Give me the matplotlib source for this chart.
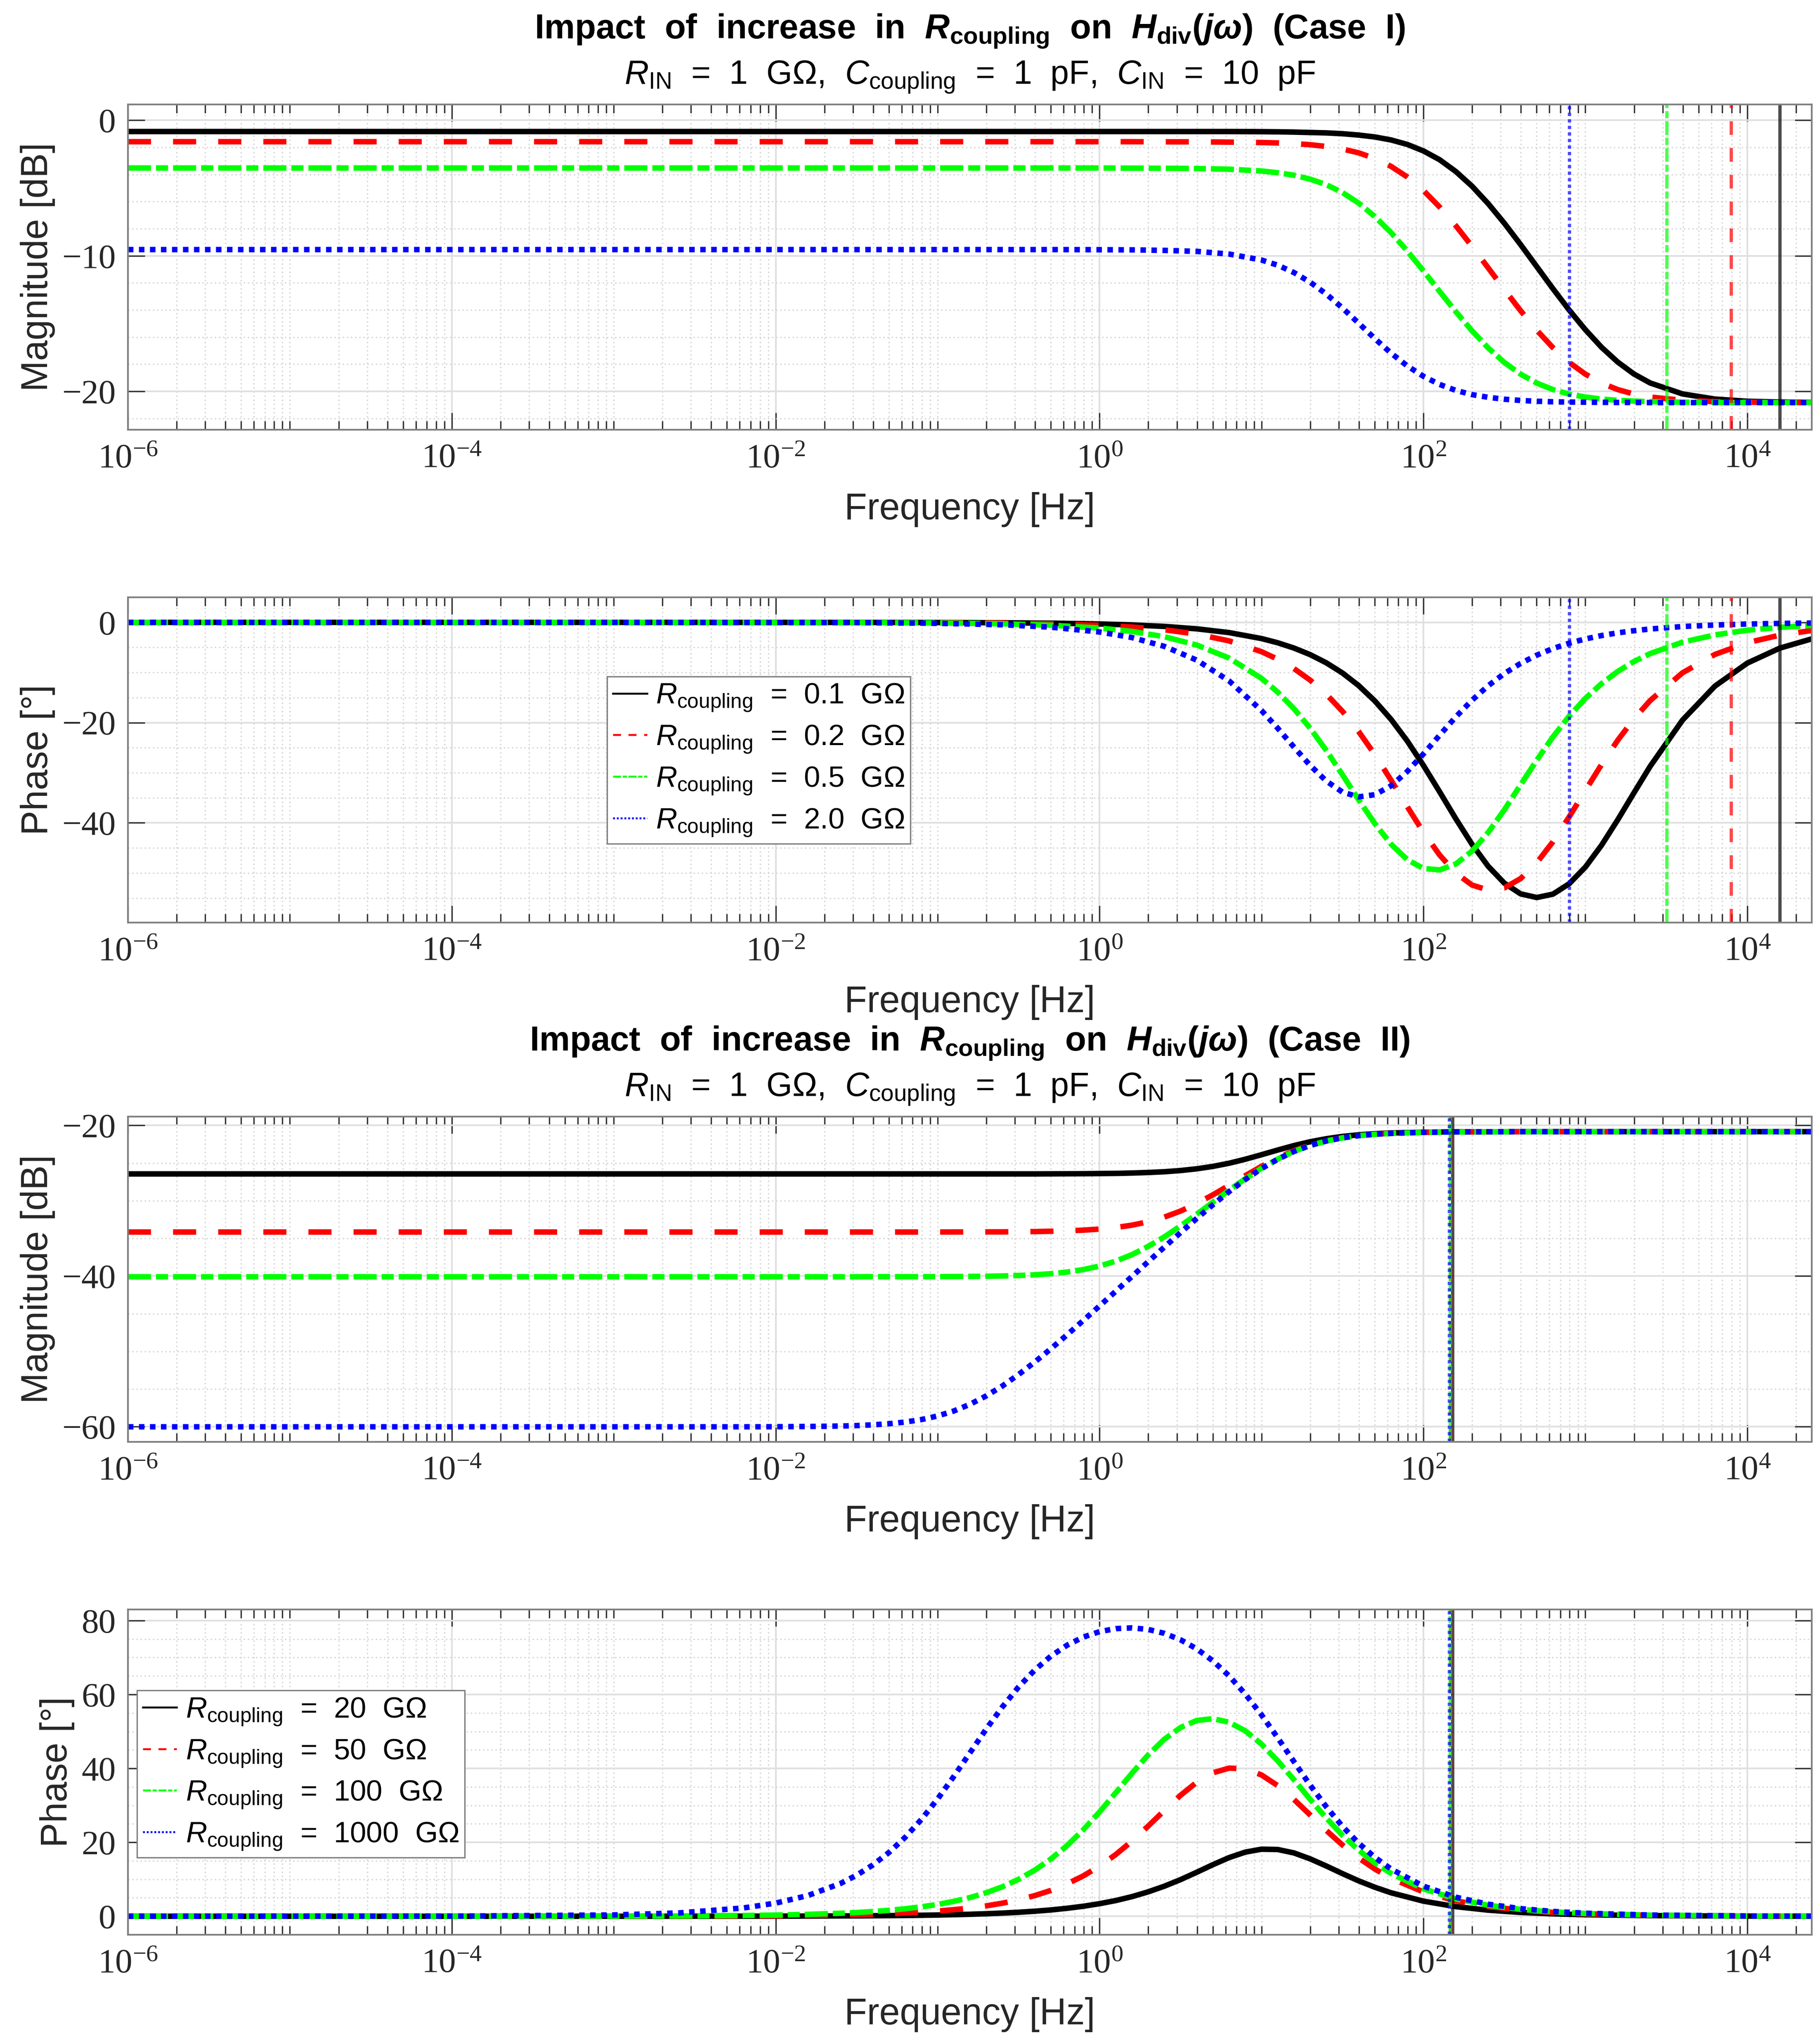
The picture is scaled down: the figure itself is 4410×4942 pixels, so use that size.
import numpy as np
import matplotlib
matplotlib.use('Agg')
import matplotlib.pyplot as plt
from matplotlib.lines import Line2D
from matplotlib.ticker import FixedLocator, LogLocator, MultipleLocator, NullFormatter

plt.rcParams['font.family'] = ['Liberation Sans', 'DejaVu Sans']
plt.rcParams['mathtext.fontset'] = 'custom'
plt.rcParams['mathtext.rm'] = 'Liberation Sans'
plt.rcParams['mathtext.it'] = 'Liberation Sans:italic'
plt.rcParams['mathtext.bf'] = 'Liberation Sans:bold'
plt.rcParams['mathtext.bfit'] = 'Liberation Sans:italic:bold'
plt.rcParams['mathtext.sf'] = 'Liberation Sans'
plt.rcParams['axes.unicode_minus'] = True

# ---------------- data ----------------
freq_case1 = [1e-6, 1e-3, 0.03162, 0.1, 0.2512, 0.5012, 1, 1.585, 2.512, 3.981, 6.31, 10,
              12.59, 15.85, 19.95, 25.12, 31.62, 39.81, 50.12, 63.1, 79.43, 100,
              125.9, 158.5, 199.5, 251.2, 316.2, 398.1, 501.2, 631, 794.3, 1000,
              1259, 1585, 1995, 2512, 3981, 6310, 10000, 15850, 25120]

mag_case1_01 = [-0.83, -0.83, -0.83, -0.83, -0.83, -0.83, -0.83, -0.83, -0.83, -0.83, -0.83, -0.84,
                -0.85, -0.87, -0.90, -0.93, -0.99, -1.09, -1.23, -1.45, -1.78, -2.26,
                -2.91, -3.78, -4.86, -6.15, -7.60, -9.17, -10.80, -12.43, -14.00, -15.45,
                -16.75, -17.84, -18.72, -19.38, -20.19, -20.57, -20.73, -20.79, -20.81]
mag_case1_02 = [-1.58, -1.58, -1.58, -1.58, -1.58, -1.58, -1.58, -1.58, -1.59, -1.59, -1.61, -1.64,
                -1.67, -1.72, -1.80, -1.93, -2.12, -2.40, -2.82, -3.40, -4.18, -5.18,
                -6.40, -7.78, -9.30, -10.89, -12.49, -14.05, -15.49, -16.78, -17.86, -18.73,
                -19.39, -19.87, -20.20, -20.42, -20.66, -20.76, -20.80, -20.82, -20.83]
mag_case1_05 = [-3.52, -3.52, -3.52, -3.52, -3.52, -3.52, -3.52, -3.53, -3.54, -3.56, -3.61, -3.74,
                -3.87, -4.05, -4.34, -4.75, -5.33, -6.11, -7.10, -8.29, -9.64, -11.11,
                -12.63, -14.12, -15.53, -16.80, -17.87, -18.73, -19.39, -19.87, -20.20, -20.42,
                -20.57, -20.66, -20.72, -20.76, -20.80, -20.82, -20.83, -20.83, -20.83]
mag_case1_20 = [-9.54, -9.54, -9.54, -9.54, -9.54, -9.54, -9.55, -9.56, -9.60, -9.67, -9.87, -10.31,
                -10.69, -11.23, -11.94, -12.82, -13.85, -14.97, -16.11, -17.18, -18.12, -18.89,
                -19.49, -19.93, -20.24, -20.44, -20.58, -20.67, -20.73, -20.77, -20.79, -20.80,
                -20.81, -20.82, -20.82, -20.83, -20.83, -20.83, -20.83, -20.83, -20.83]

phase_case1_01 = [0, 0, -0.01, -0.03, -0.08, -0.16, -0.32, -0.51, -0.81, -1.29, -2.04, -3.23,
                  -4.07, -5.12, -6.43, -8.07, -10.10, -12.61, -15.68, -19.35, -23.66, -28.54,
                  -33.81, -39.19, -44.27, -48.67, -52.04, -54.17, -54.90, -54.22, -52.15, -48.83,
                  -44.46, -39.39, -34.02, -28.73, -19.50, -12.72, -8.13, -5.15, -3.27]
phase_case1_02 = [0, 0, -0.02, -0.06, -0.15, -0.30, -0.59, -0.93, -1.48, -2.34, -3.70, -5.85,
                  -7.35, -9.21, -11.51, -14.33, -17.75, -21.78, -26.39, -31.49, -36.76, -41.88,
                  -46.42, -50.02, -52.41, -53.42, -52.98, -51.12, -47.96, -43.76, -38.81, -33.54,
                  -28.36, -23.52, -19.26, -15.60, -10.06, -6.40, -4.05, -2.56, -1.61]
phase_case1_05 = [0, 0, -0.04, -0.11, -0.29, -0.57, -1.14, -1.81, -2.86, -4.52, -7.13, -11.17,
                  -13.91, -17.21, -21.10, -25.54, -30.41, -35.40, -40.15, -44.26, -47.34, -49.10,
                  -49.39, -48.21, -45.65, -41.91, -37.38, -32.42, -27.48, -22.84, -18.71, -15.17,
                  -12.22, -9.79, -7.81, -6.23, -3.95, -2.50, -1.57, -0.99, -0.63]
phase_case1_20 = [0, 0, -0.06, -0.19, -0.48, -0.96, -1.92, -3.03, -4.79, -7.53, -11.68, -17.58,
                  -21.12, -24.87, -28.52, -31.65, -33.87, -34.82, -34.38, -32.61, -29.76, -26.25,
                  -22.52, -18.85, -15.54, -12.64, -10.20, -8.19, -6.54, -5.22, -4.16, -3.31,
                  -2.63, -2.09, -1.66, -1.32, -0.83, -0.53, -0.33, -0.21, -0.13]

freq_case2 = [1e-6, 1e-4, 1e-3, 0.00251, 0.00631, 0.01, 0.01585, 0.02512,
              0.03162, 0.03981, 0.05012, 0.0631, 0.07943, 0.1, 0.1259, 0.1585, 0.1995, 0.2512,
              0.3162, 0.3981, 0.5012, 0.631, 0.7943, 1, 1.259, 1.585, 1.995, 2.512,
              3.162, 3.981, 5.012, 6.31, 7.943, 10, 12.59, 15.85, 19.95, 25.12,
              31.62, 39.81, 50.12, 63.1,
              100, 158.5, 251.2, 398.1, 631, 1000, 2512, 10000, 25120]

mag_case2_20 = [-26.44, -26.44, -26.44, -26.44, -26.44, -26.44, -26.44, -26.44,
                -26.44, -26.44, -26.44, -26.44, -26.44, -26.44, -26.44, -26.44, -26.44, -26.44,
                -26.44, -26.44, -26.43, -26.42, -26.41, -26.39, -26.37, -26.32, -26.25, -26.15,
                -25.99, -25.76, -25.44, -25.02, -24.49, -23.89, -23.27, -22.68, -22.17, -21.77,
                -21.46, -21.25, -21.10, -21.00,
                -20.90, -20.85, -20.84, -20.83, -20.83, -20.83, -20.83, -20.83, -20.83]
mag_case2_50 = [-34.15, -34.15, -34.15, -34.15, -34.15, -34.15, -34.15, -34.15,
                -34.15, -34.15, -34.15, -34.15, -34.15, -34.15, -34.14, -34.14, -34.13, -34.13,
                -34.11, -34.09, -34.05, -33.99, -33.90, -33.76, -33.55, -33.24, -32.79, -32.17,
                -31.37, -30.37, -29.21, -27.95, -26.67, -25.43, -24.31, -23.37, -22.61, -22.05,
                -21.64, -21.36, -21.17, -21.05,
                -20.92, -20.86, -20.84, -20.83, -20.83, -20.83, -20.83, -20.83, -20.83]
mag_case2_100 = [-40.09, -40.09, -40.09, -40.09, -40.09, -40.09, -40.09, -40.09,
                 -40.09, -40.08, -40.08, -40.08, -40.08, -40.07, -40.06, -40.04, -40.02, -39.98,
                 -39.92, -39.83, -39.68, -39.46, -39.13, -38.66, -38.01, -37.15, -36.06, -34.79,
                 -33.34, -31.79, -30.19, -28.60, -27.08, -25.69, -24.47, -23.46, -22.67, -22.08,
                 -21.66, -21.37, -21.18, -21.06,
                 -20.92, -20.87, -20.84, -20.83, -20.83, -20.83, -20.83, -20.83, -20.83]
mag_case2_1000 = [-60.00, -60.00, -60.00, -60.00, -60.00, -59.99, -59.96, -59.90,
                  -59.84, -59.74, -59.59, -59.37, -59.04, -58.56, -57.90, -57.01, -55.90, -54.58,
                  -53.06, -51.40, -49.63, -47.78, -45.88, -43.96, -42.01, -40.05, -38.09, -36.15,
                  -34.23, -32.35, -30.53, -28.79, -27.18, -25.73, -24.49, -23.46, -22.66, -22.07,
                  -21.65, -21.36, -21.17, -21.05,
                  -20.92, -20.86, -20.84, -20.83, -20.83, -20.83, -20.83, -20.83, -20.83]

phase_case2_20 = [0, 0, 0, 0.01, 0.02, 0.03, 0.05, 0.09,
                  0.11, 0.14, 0.17, 0.22, 0.27, 0.34, 0.43, 0.54, 0.68, 0.86,
                  1.08, 1.36, 1.71, 2.16, 2.71, 3.40, 4.25, 5.31, 6.60, 8.13,
                  9.91, 11.90, 13.96, 15.87, 17.35, 18.14, 18.06, 17.14, 15.54, 13.60,
                  11.54, 9.58, 7.85, 6.35,
                  4.09, 2.60, 1.65, 1.04, 0.66, 0.42, 0.17, 0.04, 0.02]
phase_case2_50 = [0, 0, 0.01, 0.04, 0.09, 0.14, 0.22, 0.35,
                  0.45, 0.56, 0.71, 0.89, 1.12, 1.41, 1.78, 2.23, 2.81, 3.54,
                  4.45, 5.59, 7.00, 8.76, 10.93, 13.56, 16.70, 20.33, 24.38, 28.62,
                  32.72, 36.25, 38.81, 40.08, 39.87, 38.23, 35.34, 31.61, 27.43, 23.22,
                  19.27, 15.77, 12.78, 10.28,
                  6.58, 4.17, 2.64, 1.66, 1.05, 0.66, 0.26, 0.07, 0.03]
phase_case2_100 = [0, 0, 0.03, 0.08, 0.20, 0.32, 0.51, 0.81,
                   1.01, 1.28, 1.61, 2.02, 2.55, 3.20, 4.03, 5.06, 6.36, 7.98,
                   10.00, 12.48, 15.52, 19.15, 23.41, 28.22, 33.41, 38.69, 43.64, 47.89,
                   51.07, 52.97, 53.45, 52.49, 50.15, 46.58, 42.05, 36.95, 31.66, 26.56,
                   21.92, 17.87, 14.43, 11.60,
                   7.41, 4.69, 2.97, 1.87, 1.18, 0.75, 0.30, 0.08, 0.03]
phase_case2_1000 = [0, 0.04, 0.36, 0.89, 2.24, 3.55, 5.62, 8.87,
                    11.11, 13.88, 17.28, 21.37, 26.21, 31.73, 37.83, 44.24, 50.63, 56.64,
                    62.03, 66.63, 70.40, 73.35, 75.53, 77.00, 77.82, 78.02, 77.60, 76.54,
                    74.80, 72.35, 69.09, 65.02, 60.11, 54.48, 48.28, 41.85, 35.51, 29.62,
                    24.32, 19.77, 15.94, 12.79,
                    8.15, 5.16, 3.26, 2.06, 1.30, 0.82, 0.33, 0.08, 0.03]

vline_case1 = [15915, 7958, 3183, 796]
vline_case2 = [151.9, 147.6, 146.1, 144.8]

rcoupling_case1 = ['0.1', '0.2', '0.5', '2.0']
rcoupling_case2 = ['20', '50', '100', '1000']

xticks = [1e-6, 1e-4, 1e-2, 1, 1e2, 1e4]
xtick_labels = [r'$\mathdefault{10^{-6}}$', r'$\mathdefault{10^{-4}}$', r'$\mathdefault{10^{-2}}$',
                r'$\mathdefault{10^{0}}$', r'$\mathdefault{10^{2}}$', r'$\mathdefault{10^{4}}$']

title_case1 = (r'Impact  of  increase  in  $\mathbfit{R}_{\mathbf{coupling}}$  on  '
               r'$\mathbfit{H}_{\mathbf{div}}\mathbf{(}\mathbfit{jω}\mathbf{)}$  (Case  I)')
title_case2 = (r'Impact  of  increase  in  $\mathbfit{R}_{\mathbf{coupling}}$  on  '
               r'$\mathbfit{H}_{\mathbf{div}}\mathbf{(}\mathbfit{jω}\mathbf{)}$  (Case  II)')
subtitle = (r'$\mathit{R}_{\mathrm{IN}}$  =  1  GΩ,  $\mathit{C}_{\mathrm{coupling}}$  =  1  pF,  '
            r'$\mathit{C}_{\mathrm{IN}}$  =  10  pF')

# ---------------- styles ----------------
colors = ['#000000', '#ff0000', '#00ff00', '#0000ff']
curve_styles = ['-', (0, (4.2, 4.0)), (0, (4.2, 0.9, 2.2, 0.9)), (0, (1.0, 1.0))]
TXT = '#262626'

W_PX, H_PX = 4410, 4942
fig = plt.figure(figsize=(W_PX / 300, H_PX / 300), dpi=300)
left, width, height = 310 / W_PX, 4080 / W_PX, 788 / H_PX
tops = [253, 1447, 2705, 3899]
axes = [fig.add_axes([left, 1 - (t + 788) / H_PX, width, height]) for t in tops]


def style_axes(ax, ylim, yticks, yminor, ylabel):
    ax.set_xscale('log')
    ax.set_xlim(1e-6, 2.5e4)
    ax.set_ylim(*ylim)
    ax.xaxis.set_major_locator(FixedLocator(xticks))
    ax.set_xticklabels(xtick_labels)
    ax.xaxis.set_minor_locator(LogLocator(base=10, subs=np.arange(1, 10), numticks=200))
    ax.xaxis.set_minor_formatter(NullFormatter())
    ax.yaxis.set_major_locator(FixedLocator(yticks))
    ax.yaxis.set_minor_locator(MultipleLocator(yminor))
    ax.set_axisbelow(True)
    ax.grid(True, which='major', color='#e0e0e0', lw=1.0, ls='-')
    ax.grid(True, which='minor', color='#d6d6d6', lw=0.8, ls=(0, (1, 2)))
    ax.tick_params(which='both', direction='in', top=True, right=True, color='#333333', width=0.8)
    ax.tick_params(which='major', length=9.8, labelsize=20, labelcolor=TXT,
                   labelfontfamily='Liberation Serif')
    ax.tick_params(axis='x', which='major', pad=8)
    ax.tick_params(axis='y', which='major', pad=7)
    ax.tick_params(axis='x', which='minor', length=5)
    ax.tick_params(axis='y', which='minor', length=0)
    for s in ax.spines.values():
        s.set_color('#808080')
        s.set_linewidth(1.0)
    ax.set_xlabel('Frequency [Hz]', fontsize=21.5, color=TXT, va='baseline')
    ax.xaxis.set_label_coords(0.5, -217 / 788)
    ax.set_ylabel(ylabel, fontsize=21.5, color=TXT, labelpad=4)


def draw(ax, freq, series, vlines):
    for y, c, s in zip(series, colors, curve_styles):
        ax.plot(freq, y, color=c, ls=s, lw=3.2, dash_capstyle='butt')
    for f, c, s in zip(vlines, colors, curve_styles):
        ax.axvline(f, color=c, ls=s, lw=1.9, alpha=0.7, dash_capstyle='butt')


draw(axes[0], freq_case1, [mag_case1_01, mag_case1_02, mag_case1_05, mag_case1_20], vline_case1)
draw(axes[1], freq_case1, [phase_case1_01, phase_case1_02, phase_case1_05, phase_case1_20], vline_case1)
draw(axes[2], freq_case2, [mag_case2_20, mag_case2_50, mag_case2_100, mag_case2_1000], vline_case2)
draw(axes[3], freq_case2, [phase_case2_20, phase_case2_50, phase_case2_100, phase_case2_1000], vline_case2)

style_axes(axes[0], (-22.83, 1.17), [-20, -10, 0], 2, 'Magnitude [dB]')
style_axes(axes[1], (-59.9, 5.0), [-40, -20, 0], 5, 'Phase [°]')
style_axes(axes[2], (-62.0, -18.83), [-60, -40, -20], 5, 'Magnitude [dB]')
style_axes(axes[3], (-5.0, 83.0), [0, 20, 40, 60, 80], 5, 'Phase [°]')


def add_legend(ax, values, anchor):
    handles = [Line2D([], [], color=c, ls=s, lw=1.1, dash_capstyle='butt')
               for c, s in zip(colors, curve_styles)]
    labels = [r'$\mathit{R}_{\mathrm{coupling}}$  =  ' + v + '  GΩ' for v in values]
    leg = ax.legend(handles, labels, loc='upper left', bbox_to_anchor=anchor,
                    borderaxespad=0, fontsize=17, handlelength=1.16, handletextpad=0.3,
                    borderpad=0.2, labelspacing=0.37, frameon=True, fancybox=False,
                    framealpha=1, edgecolor='#808080')
    leg.get_frame().set_linewidth(0.8)


add_legend(axes[1], rcoupling_case1, (0.2846, 0.7567))
add_legend(axes[3], rcoupling_case2, (0.0054, 0.7513))

xc = (310 + 2040) / W_PX
fig.text(xc, 1 - 94 / H_PX, title_case1, ha='center', va='baseline', fontsize=20,
         fontweight='bold', color='black')
fig.text(xc, 1 - 204 / H_PX, subtitle, ha='center', va='baseline', fontsize=19.4, color='black')
fig.text(xc, 1 - 2546 / H_PX, title_case2, ha='center', va='baseline', fontsize=20,
         fontweight='bold', color='black')
fig.text(xc, 1 - 2656 / H_PX, subtitle, ha='center', va='baseline', fontsize=19.4, color='black')

fig.savefig('out.png', dpi=300, facecolor='white')
